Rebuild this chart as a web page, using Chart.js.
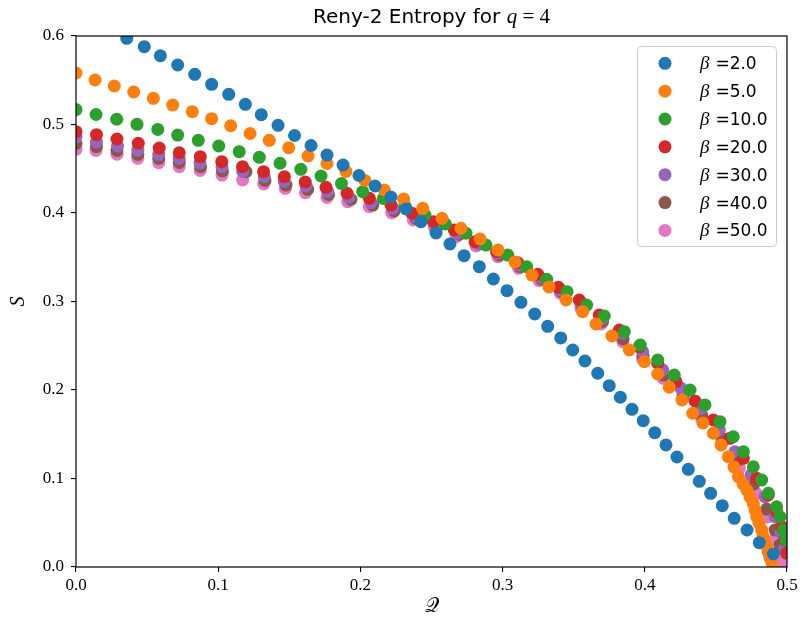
<!DOCTYPE html>
<html>
<head>
<meta charset="utf-8">
<script src="https://cdn.jsdelivr.net/npm/chart.js@4.4.0/dist/chart.umd.min.js"></script>
<style>
  html, body { margin: 0; padding: 0; background: #fff; }
  canvas { display: block; }
</style>
</head>
<body>
<canvas id="entropyChart" width="801" height="631"></canvas>
<script>
// series labels and colours (matplotlib default cycle)
var betas = ['2.0', '5.0', '10.0', '20.0', '30.0', '40.0', '50.0'];
var colours = ['#1f77b4', '#ff7f0e', '#2ca02c', '#d62728', '#9467bd', '#8c564b', '#e377c2'];

var xTicks = [0.0, 0.1, 0.2, 0.3, 0.4, 0.5];
var yTicks = [0.0, 0.1, 0.2, 0.3, 0.4, 0.5, 0.6];

// Q (x) and S (y), one pair of arrays per beta
var qBeta2 = [0.0357, 0.0480, 0.0593, 0.0715, 0.0835, 0.0954, 0.1074, 0.1191, 0.1303, 0.1421, 0.1537, 0.1653, 0.1765, 0.1878, 0.1990, 0.2103, 0.2215, 0.2321, 0.2426, 0.2532, 0.2630, 0.2729, 0.2836, 0.2935, 0.3031, 0.3129, 0.3226, 0.3317, 0.3409, 0.3493, 0.3579, 0.3669, 0.3750, 0.3828, 0.3910, 0.3989, 0.4070, 0.4149, 0.4226, 0.4306, 0.4383, 0.4463, 0.4545, 0.4629, 0.4719, 0.4805, 0.4904];
var sBeta2 = [0.5974, 0.5879, 0.5777, 0.5672, 0.5567, 0.5454, 0.5341, 0.5228, 0.5111, 0.4991, 0.4876, 0.4763, 0.4655, 0.4542, 0.4424, 0.4305, 0.4181, 0.4045, 0.3902, 0.3774, 0.3650, 0.3518, 0.3393, 0.3254, 0.3122, 0.2991, 0.2859, 0.2720, 0.2588, 0.2452, 0.2328, 0.2189, 0.2049, 0.1918, 0.1782, 0.1653, 0.1518, 0.1379, 0.1243, 0.1104, 0.0968, 0.0833, 0.0693, 0.0550, 0.0418, 0.0275, 0.0147];

var qBeta5 = [0.0, 0.0134, 0.0269, 0.0406, 0.0544, 0.0680, 0.0818, 0.0954, 0.1088, 0.1224, 0.1359, 0.1496, 0.1632, 0.1765, 0.1899, 0.2032, 0.2168, 0.2304, 0.2438, 0.2574, 0.2707, 0.2841, 0.2968, 0.3087, 0.3207, 0.3326, 0.3446, 0.3563, 0.3657, 0.3769, 0.3891, 0.3997, 0.4091, 0.4172, 0.4262, 0.4337, 0.4409, 0.4482, 0.4536, 0.4587, 0.4627, 0.4658, 0.4691, 0.4717, 0.4740, 0.4763, 0.4775, 0.4787, 0.4803, 0.4822, 0.4831, 0.4845, 0.4859, 0.4868, 0.4880, 0.4895];
var sBeta5 = [0.5582, 0.5503, 0.5435, 0.5367, 0.5296, 0.5220, 0.5145, 0.5066, 0.4986, 0.4898, 0.4821, 0.4737, 0.4644, 0.4559, 0.4469, 0.4367, 0.4260, 0.4158, 0.4053, 0.3940, 0.3827, 0.3706, 0.3582, 0.3446, 0.3299, 0.3164, 0.3017, 0.2885, 0.2746, 0.2610, 0.2452, 0.2320, 0.2181, 0.2031, 0.1887, 0.1737, 0.1627, 0.1511, 0.1379, 0.1246, 0.1130, 0.1020, 0.0938, 0.0870, 0.0791, 0.0720, 0.0644, 0.0568, 0.0497, 0.0418, 0.0350, 0.0294, 0.0226, 0.0169, 0.0102, 0.0045];

var qBeta10 = [0.0, 0.0141, 0.0286, 0.0429, 0.0575, 0.0715, 0.0860, 0.1004, 0.1148, 0.1289, 0.1435, 0.1581, 0.1723, 0.1867, 0.2016, 0.2161, 0.2314, 0.2454, 0.2597, 0.2743, 0.2883, 0.3036, 0.3169, 0.3310, 0.3453, 0.3591, 0.3715, 0.3856, 0.3968, 0.4091, 0.4207, 0.4318, 0.4423, 0.4529, 0.4622, 0.4693, 0.4763, 0.4822, 0.4869, 0.4927, 0.4951, 0.4974, 0.4993];
var sBeta10 = [0.5169, 0.5113, 0.5059, 0.5002, 0.4944, 0.4881, 0.4821, 0.4757, 0.4693, 0.4629, 0.4562, 0.4494, 0.4418, 0.4333, 0.4241, 0.4164, 0.4079, 0.3977, 0.3876, 0.3771, 0.3638, 0.3525, 0.3393, 0.3251, 0.3111, 0.2960, 0.2836, 0.2659, 0.2508, 0.2339, 0.2169, 0.2000, 0.1831, 0.1642, 0.1472, 0.1303, 0.1133, 0.0983, 0.0833, 0.0681, 0.0568, 0.0418, 0.0305];

var qBeta20 = [0.0, 0.0144, 0.0288, 0.0438, 0.0585, 0.0726, 0.0874, 0.1025, 0.1171, 0.1319, 0.1465, 0.1612, 0.1758, 0.1906, 0.2063, 0.2215, 0.2363, 0.2513, 0.2660, 0.2806, 0.2958, 0.3106, 0.3247, 0.3392, 0.3539, 0.3680, 0.3821, 0.3961, 0.4091, 0.4219, 0.4353, 0.4482, 0.4599, 0.4693, 0.4787, 0.4868, 0.4927, 0.4963, 0.4986, 0.4998];
var sBeta20 = [0.4919, 0.4885, 0.4836, 0.4788, 0.4734, 0.4681, 0.4636, 0.4580, 0.4523, 0.4467, 0.4410, 0.4350, 0.4290, 0.4223, 0.4166, 0.4090, 0.3997, 0.3902, 0.3808, 0.3676, 0.3563, 0.3438, 0.3307, 0.3160, 0.3017, 0.2847, 0.2678, 0.2489, 0.2302, 0.2094, 0.1876, 0.1661, 0.1454, 0.1228, 0.1002, 0.0814, 0.0625, 0.0455, 0.0305, 0.0155];

var qBeta30 = [0.0, 0.0144, 0.0292, 0.0435, 0.0582, 0.0726, 0.0872, 0.1027, 0.1172, 0.1324, 0.1465, 0.1617, 0.1770, 0.1918, 0.2075, 0.2227, 0.2391, 0.2532, 0.2684, 0.2827, 0.2966, 0.3115, 0.3263, 0.3407, 0.3551, 0.3704, 0.3845, 0.3985, 0.4126, 0.4255, 0.4392, 0.4524, 0.4634, 0.4747, 0.4845, 0.4916, 0.4958, 0.4986];
var sBeta30 = [0.4859, 0.4802, 0.4757, 0.4710, 0.4663, 0.4618, 0.4567, 0.4522, 0.4469, 0.4412, 0.4356, 0.4305, 0.4241, 0.4177, 0.4116, 0.4053, 0.3958, 0.3864, 0.3771, 0.3655, 0.3545, 0.3412, 0.3273, 0.3130, 0.2983, 0.2810, 0.2641, 0.2433, 0.2226, 0.2019, 0.1785, 0.1548, 0.1303, 0.1040, 0.0794, 0.0568, 0.0384, 0.0215];

var qBeta40 = [0.0, 0.0144, 0.0288, 0.0435, 0.0582, 0.0726, 0.0876, 0.1030, 0.1195, 0.1329, 0.1477, 0.1629, 0.1776, 0.1934, 0.2087, 0.2238, 0.2391, 0.2544, 0.2695, 0.2831, 0.2978, 0.3122, 0.3270, 0.3414, 0.3558, 0.3703, 0.3847, 0.3987, 0.4132, 0.4269, 0.4400, 0.4541, 0.4658, 0.4768, 0.4857, 0.4916, 0.4951];
var sBeta40 = [0.4785, 0.4751, 0.4706, 0.4661, 0.4616, 0.4571, 0.4525, 0.4475, 0.4467, 0.4367, 0.4316, 0.4268, 0.4209, 0.4155, 0.4090, 0.4023, 0.3938, 0.3853, 0.3757, 0.3650, 0.3525, 0.3395, 0.3254, 0.3113, 0.2949, 0.2774, 0.2576, 0.2384, 0.2169, 0.1944, 0.1718, 0.1458, 0.1209, 0.0938, 0.0655, 0.0418, 0.0249];

var qBeta50 = [0.0, 0.0141, 0.0288, 0.0434, 0.0582, 0.0726, 0.0873, 0.1027, 0.1172, 0.1320, 0.1472, 0.1613, 0.1765, 0.1911, 0.2063, 0.2220, 0.2372, 0.2520, 0.2672, 0.2813, 0.2966, 0.3113, 0.3258, 0.3406, 0.3551, 0.3692, 0.3845, 0.3985, 0.4130, 0.4267, 0.4399, 0.4541, 0.4665, 0.4782, 0.4863, 0.4916, 0.4933, 0.4958];
var sBeta50 = [0.4720, 0.4706, 0.4664, 0.4618, 0.4568, 0.4523, 0.4480, 0.4429, 0.4373, 0.4328, 0.4279, 0.4229, 0.4175, 0.4128, 0.4071, 0.4003, 0.3921, 0.3838, 0.3732, 0.3627, 0.3506, 0.3375, 0.3235, 0.3093, 0.2923, 0.2746, 0.2546, 0.2347, 0.2132, 0.1906, 0.1678, 0.1398, 0.1115, 0.0833, 0.0565, 0.0316, 0.0136, 0.0034];

var qValues = [qBeta2, qBeta5, qBeta10, qBeta20, qBeta30, qBeta40, qBeta50];
var sValues = [sBeta2, sBeta5, sBeta10, sBeta20, sBeta30, sBeta40, sBeta50];

var serif = "'Liberation Serif', 'DejaVu Serif', serif";
var sans = "'DejaVu Sans', sans-serif";

var datasets = [];
for (var i = 0; i < betas.length; i++) {
    var pts = [];
    var n = Math.min(qValues[i].length, sValues[i].length);
    for (var j = 0; j < n; j++) {
        pts.push({ x: qValues[i][j], y: sValues[i][j] });
    }
    datasets.push({
        label: 'β =' + betas[i],
        data: pts,
        backgroundColor: colours[i],
        borderColor: colours[i],
        borderWidth: 0,
        pointRadius: 6.5,
        pointHoverRadius: 6.5
    });
}

// frame, title, axis labels and legend drawn on top, like matplotlib does
var decorations = {
    id: 'decorations',
    afterDraw: function (chart) {
        var c = chart.ctx;
        var a = chart.chartArea;
        c.save();

        c.strokeStyle = '#000';
        c.lineWidth = 1.2;
        c.strokeRect(a.left, a.top, a.right - a.left, a.bottom - a.top);

        // title with a bit of math in it
        var parts = [
            { t: 'Reny-2 Entropy for ', f: '20px ' + sans },
            { t: 'q', f: 'italic 21px ' + serif },
            { t: ' = 4', f: '21px ' + serif }
        ];
        var total = 0;
        parts.forEach(function (p) { c.font = p.f; p.w = c.measureText(p.t).width; total += p.w; });
        var x = (a.left + a.right) / 2 - total / 2;
        c.fillStyle = '#000';
        c.textBaseline = 'alphabetic';
        c.textAlign = 'left';
        parts.forEach(function (p) { c.font = p.f; c.fillText(p.t, x, 23); x += p.w; });

        // axis labels
        c.textAlign = 'center';
        c.textBaseline = 'middle';
        c.font = '20px ' + "'DejaVu Serif', 'DejaVu Sans', 'Noto Sans', serif";
        c.fillText('𝒬', (a.left + a.right) / 2, 607);
        c.save();
        c.translate(19, (a.top + a.bottom) / 2);
        c.rotate(-Math.PI / 2);
        c.font = 'italic 20px ' + serif;
        c.fillText('S', 0, 0);
        c.restore();

        // legend box
        var bx = 637.5, by = 46.5, bw = 139, bh = 200, r = 4;
        c.beginPath();
        c.moveTo(bx + r, by);
        c.arcTo(bx + bw, by, bx + bw, by + bh, r);
        c.arcTo(bx + bw, by + bh, bx, by + bh, r);
        c.arcTo(bx, by + bh, bx, by, r);
        c.arcTo(bx, by, bx + bw, by, r);
        c.closePath();
        c.fillStyle = 'rgba(255,255,255,0.8)';
        c.fill();
        c.strokeStyle = '#cccccc';
        c.lineWidth = 1;
        c.stroke();

        c.textAlign = 'left';
        c.textBaseline = 'alphabetic';
        chart.data.datasets.forEach(function (ds, k) {
            var ry = 63.3 + k * 27.85;
            c.fillStyle = ds.backgroundColor;
            c.beginPath();
            c.arc(665, ry, 6.5, 0, Math.PI * 2);
            c.fill();
            c.fillStyle = '#000';
            c.font = 'italic 19px ' + serif;
            c.fillText('β', 700, ry + 6);
            c.font = '17px ' + sans;
            c.fillText(' =' + betas[k], 710, ry + 6);
        });

        c.restore();
    }
};

var entropyChart = new Chart(document.getElementById('entropyChart').getContext('2d'), {
    type: 'scatter',
    data: { datasets: datasets },
    options: {
        responsive: false,
        animation: false,
        events: [],
        layout: { padding: { left: 0, top: 36, right: 14, bottom: 0 } },
        plugins: {
            legend: { display: false },
            title: { display: false },
            tooltip: { enabled: false }
        },
        scales: {
            x: {
                type: 'linear',
                min: 0,
                max: 0.5,
                afterFit: function (s) { s.height = 64; },
                afterBuildTicks: function (s) { s.ticks = xTicks.map(function (v) { return { value: v }; }); },
                ticks: {
                    callback: function (v) { return v.toFixed(1); },
                    font: { family: serif, size: 17 },
                    color: '#000',
                    padding: 3,
                    maxRotation: 0
                },
                grid: { drawOnChartArea: false, drawTicks: true, tickLength: 5, color: '#000', lineWidth: 1.1 },
                border: { display: false }
            },
            y: {
                type: 'linear',
                min: 0,
                max: 0.6,
                afterFit: function (s) { s.width = 76; },
                afterBuildTicks: function (s) { s.ticks = yTicks.map(function (v) { return { value: v }; }); },
                ticks: {
                    callback: function (v) { return v.toFixed(1); },
                    font: { family: serif, size: 17 },
                    color: '#000',
                    padding: 7
                },
                grid: { drawOnChartArea: false, drawTicks: true, tickLength: 5, color: '#000', lineWidth: 1.1 },
                border: { display: false }
            }
        }
    },
    plugins: [decorations]
});
</script>
</body>
</html>
